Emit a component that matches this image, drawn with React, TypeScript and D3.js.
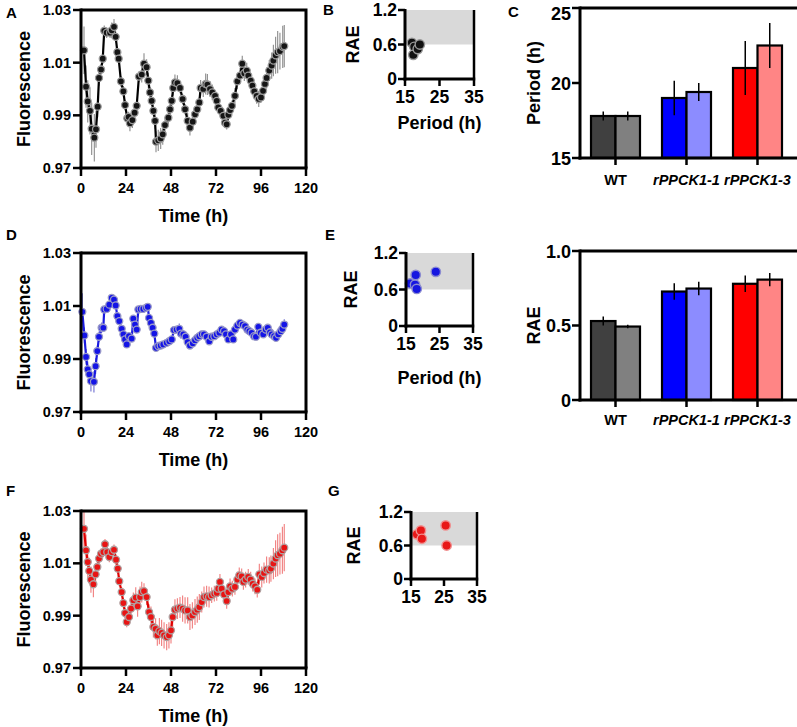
import React from 'react';
import * as d3 from 'd3';

const FONT = '"Liberation Sans", Arial, Helvetica, sans-serif';

// ---- tick values ----
const timeTicks = [0, 24, 48, 72, 96, 120];
const fluorTicks = [0.97, 0.99, 1.01, 1.03];
const periodTicks = [15, 25, 35];
const raeTicks = [0, 0.6, 1.2];
const raeTickLabels = ['0', '0.6', '1.2'];
const barPeriodTicks = [15, 20, 25];
const barRaeTicks = [0, 0.5, 1.0];
const barRaeTickLabels = ['0', '0.5', '1.0'];

// ---- panel A (WT) time series ----
const aTime = [1.6,2.7,3.6,4.8,5.7,7.1,8.0,8.9,9.6,10.7,11.6,12.4,13.7,15.5,16.4,17.6,18.5,19.4,20.1,21.3,22.6,23.5,24.7,25.4,26.1,27.4,28.6,29.7,30.9,32.4,33.6,35.0,35.9,36.8,37.7,38.6,39.5,40.0,41.2,42.5,43.6,44.8,46.6,47.5,48.4,49.2,50.1,51.4,52.8,54.2,55.5,56.9,58.1,59.6,60.8,62.0,63.1,63.8,65.2,66.5,67.4,68.8,70.0,71.5,72.4,73.2,74.5,75.9,76.8,77.7,78.6,79.5,80.5,82.1,83.4,84.8,86.0,87.1,88.4,89.2,90.5,91.4,92.4,93.7,94.8,96.0,97.1,98.1,99.0,100.4,101.7,102.6,103.8,104.9,106.1,107.6,108.4];
const aValue = [1.0147,1.0009,0.9953,0.9917,0.9849,0.9815,0.9847,0.9933,1.0042,1.0074,1.0115,1.0221,1.0214,1.0214,1.0223,1.0236,1.0198,1.0140,1.0115,1.0029,0.9991,0.9939,0.9889,0.9894,0.9870,0.9882,0.9910,0.9936,1.0047,1.0055,1.0096,1.0083,1.0032,0.9987,0.9955,0.9917,0.9879,0.9800,0.9805,0.9812,0.9828,0.9863,0.9891,0.9923,0.9955,1.0004,1.0025,1.0022,1.0004,0.9962,0.9923,0.9879,0.9853,0.9876,0.9904,0.9923,0.9949,1.0004,1.0000,1.0019,1.0017,1.0000,0.9987,0.9974,0.9955,0.9930,0.9917,0.9898,0.9872,0.9866,0.9902,0.9920,0.9936,0.9974,1.0029,1.0051,1.0096,1.0060,1.0070,1.0051,1.0032,1.0013,0.9991,0.9974,0.9962,0.9968,0.9993,1.0019,1.0042,1.0070,1.0089,1.0108,1.0128,1.0140,1.0144,1.0160,1.0163];
const aError = [0.009,0.008,0.008,0.009,0.010,0.009,0.007,0.004,0.003,0.002,0.002,0.002,0.002,0.002,0.003,0.003,0.002,0.002,0.002,0.002,0.002,0.002,0.002,0.002,0.003,0.003,0.002,0.002,0.002,0.003,0.004,0.003,0.003,0.002,0.002,0.002,0.003,0.004,0.004,0.004,0.004,0.003,0.003,0.002,0.002,0.003,0.003,0.003,0.002,0.002,0.002,0.003,0.003,0.003,0.002,0.002,0.002,0.003,0.003,0.004,0.004,0.003,0.003,0.002,0.002,0.002,0.002,0.002,0.002,0.002,0.002,0.002,0.002,0.003,0.003,0.003,0.003,0.003,0.003,0.003,0.002,0.002,0.003,0.003,0.003,0.002,0.003,0.003,0.004,0.004,0.005,0.006,0.007,0.008,0.007,0.008,0.008];

// ---- panel D (rPPCK1-1) time series ----
const dTime = [0.7,1.8,2.7,3.6,4.4,5.3,6.9,7.8,8.7,9.6,11.0,11.9,12.4,13.7,15.1,16.4,17.6,18.5,19.4,20.4,21.7,22.6,23.5,24.4,25.6,27.0,27.9,28.8,29.7,30.6,31.8,33.2,34.7,35.6,36.3,37.3,38.2,39.1,40.0,41.2,42.5,43.9,45.7,47.1,48.4,49.6,51.0,52.4,53.3,54.6,55.8,56.9,58.1,59.6,60.8,62.0,63.1,64.4,65.6,67.0,68.4,69.7,71.1,72.4,73.8,75.0,76.3,77.3,78.6,80.0,81.2,82.1,83.4,84.8,86.2,87.5,88.7,89.8,91.0,92.3,93.3,94.6,95.8,97.2,98.5,99.6,100.8,101.7,103.0,104.0,105.2,106.5,107.4,108.4];
const dValue = [1.0078,0.9989,0.9908,0.9861,0.9842,0.9817,0.9814,0.9873,0.9930,0.9984,1.0018,1.0018,1.0087,1.0089,1.0105,1.0131,1.0124,1.0102,1.0062,1.0043,1.0014,0.9993,0.9974,0.9955,0.9986,0.9977,1.0052,1.0030,1.0011,1.0087,1.0089,1.0089,1.0093,1.0097,1.0055,1.0036,1.0018,0.9996,0.9942,0.9949,0.9951,0.9955,0.9961,0.9967,0.9974,1.0009,1.0011,1.0014,0.9996,0.9993,0.9984,0.9964,0.9951,0.9959,0.9971,0.9980,0.9986,0.9993,0.9993,0.9984,0.9967,0.9984,0.9986,0.9993,0.9999,1.0011,1.0005,0.9993,0.9974,0.9993,0.9974,1.0011,1.0026,1.0036,1.0030,1.0024,1.0011,1.0005,0.9999,0.9986,0.9984,1.0021,0.9999,0.9993,1.0011,1.0018,1.0001,0.9993,0.9986,0.9980,0.9993,1.0005,1.0014,1.0030];
const dError = [0.007,0.003,0.003,0.003,0.003,0.004,0.004,0.003,0.002,0.002,0.002,0.001,0.001,0.001,0.001,0.001,0.001,0.001,0.001,0.001,0.001,0.001,0.001,0.001,0.001,0.001,0.001,0.001,0.001,0.001,0.001,0.001,0.001,0.001,0.001,0.001,0.001,0.001,0.001,0.001,0.001,0.001,0.001,0.001,0.001,0.001,0.001,0.002,0.002,0.001,0.001,0.001,0.001,0.001,0.001,0.001,0.001,0.001,0.001,0.001,0.001,0.001,0.001,0.001,0.001,0.001,0.001,0.001,0.001,0.001,0.001,0.001,0.001,0.001,0.001,0.001,0.001,0.001,0.001,0.001,0.001,0.001,0.001,0.001,0.001,0.001,0.001,0.001,0.001,0.001,0.001,0.001,0.001,0.002];

// ---- panel F (rPPCK1-3) time series ----
const fTime = [1.6,2.7,3.6,4.4,5.3,6.6,7.8,8.7,9.6,10.7,11.9,12.8,14.0,15.1,16.4,17.6,18.7,19.6,20.4,21.7,22.6,23.5,24.4,25.6,26.7,27.9,29.2,30.2,31.5,32.4,33.6,35.0,36.3,37.3,38.6,39.8,40.7,41.8,43.0,44.3,45.7,46.9,48.0,48.9,50.1,51.4,52.8,54.2,55.5,56.9,58.1,59.4,60.8,62.0,63.1,64.4,65.6,67.0,68.3,69.7,71.1,72.4,73.2,74.1,75.0,76.3,77.7,78.6,79.5,80.7,82.1,83.4,84.4,85.7,86.6,87.8,89.2,90.5,91.6,92.8,94.0,95.1,96.4,97.6,99.0,100.4,101.3,102.6,103.8,104.9,106.1,107.4,108.4];
const fValue = [1.0232,1.0150,1.0105,1.0071,1.0038,1.0020,1.0058,1.0086,1.0118,1.0137,1.0143,1.0173,1.0143,1.0124,1.0143,1.0152,1.0114,1.0080,1.0032,0.9990,0.9948,0.9910,0.9876,0.9895,0.9927,0.9959,0.9969,0.9936,0.9971,0.9990,0.9994,0.9971,0.9914,0.9895,0.9857,0.9850,0.9825,0.9841,0.9834,0.9825,0.9818,0.9825,0.9844,0.9895,0.9923,0.9927,0.9931,0.9927,0.9920,0.9920,0.9895,0.9901,0.9914,0.9923,0.9933,0.9952,0.9971,0.9974,0.9971,0.9978,0.9984,0.9987,1.0003,1.0029,1.0003,0.9981,0.9956,0.9990,1.0012,1.0003,1.0010,1.0038,1.0054,1.0050,1.0029,1.0038,1.0048,1.0038,1.0022,1.0012,0.9999,1.0058,1.0048,1.0063,1.0076,1.0073,1.0080,1.0099,1.0118,1.0131,1.0137,1.0150,1.0160];
const fError = [0.008,0.006,0.006,0.005,0.005,0.005,0.004,0.003,0.003,0.002,0.002,0.002,0.002,0.002,0.002,0.002,0.002,0.002,0.002,0.002,0.002,0.002,0.002,0.002,0.003,0.003,0.004,0.004,0.004,0.004,0.003,0.003,0.003,0.004,0.004,0.004,0.004,0.005,0.005,0.005,0.005,0.005,0.005,0.004,0.004,0.004,0.004,0.005,0.005,0.005,0.005,0.005,0.005,0.005,0.005,0.004,0.004,0.004,0.004,0.003,0.003,0.003,0.003,0.003,0.003,0.003,0.003,0.003,0.003,0.003,0.003,0.003,0.003,0.003,0.003,0.003,0.003,0.003,0.003,0.003,0.003,0.004,0.004,0.004,0.005,0.005,0.005,0.006,0.007,0.008,0.008,0.009,0.009];

// ---- scatter panels (period vs RAE) ----
const bPeriod = [17.0, 17.7, 17.4, 18.7, 19.3];
const bRae = [0.63, 0.56, 0.42, 0.52, 0.60];
const ePeriod = [16.2, 17.9, 17.7, 18.2, 23.9];
const eRae = [0.70, 0.84, 0.68, 0.61, 0.89];
const gPeriod = [16.8, 18.0, 18.3, 25.5, 25.8];
const gRae = [0.80, 0.87, 0.72, 0.96, 0.60];

// ---- bar charts ----
const groups = ['WT', 'rPPCK1-1', 'rPPCK1-3'];
const periodMean1 = [17.8, 19.0, 21.0];
const periodErr1 = [0.3, 1.15, 1.8];
const periodMean2 = [17.8, 19.4, 22.5];
const periodErr2 = [0.3, 0.6, 1.5];
const raeMean1 = [0.53, 0.728, 0.78];
const raeErr1 = [0.03, 0.055, 0.055];
const raeMean2 = [0.493, 0.748, 0.808];
const raeErr2 = [0.012, 0.045, 0.045];
const barColors1 = ['#404040', '#0000ff', '#ff0000'];
const barColors2 = ['#808080', '#8c8cff', '#ff8585'];

const bold = { fontFamily: FONT, fontWeight: 700 } as const;

function Letter({ x, y, t }: { x: number; y: number; t: string }) {
  return <text x={x} y={y} style={{ ...bold, fontSize: 15 }} fill="#000">{t}</text>;
}

function TimeSeries(props: any) {
  const { id, top, bottom, t, v, e, lineColor, fill, stroke, errColor, letter, letterY } = props;
  const left = 81, right = 306;
  const x = d3.scaleLinear().domain([0, 120]).range([left, right]);
  const y = d3.scaleLinear().domain([0.97, 1.03]).range([bottom, top]);
  const pts = t.map((ti: number, i: number) => ({ t: ti, v: v[i], e: e[i] }));
  const path = d3.line<any>().x(d => x(d.t)).y(d => y(d.v))(pts) || '';
  const mid = (top + bottom) / 2;
  return (
    <g>
      <clipPath id={id}>
        <rect x={left - 10} y={top} width={right - left + 20} height={bottom - top + 10} />
      </clipPath>
      <g clipPath={`url(#${id})`}>
        {pts.map((d: any, i: number) => (
          <line key={'e' + i} x1={x(d.t)} x2={x(d.t)} y1={y(d.v - d.e)} y2={y(d.v + d.e)} stroke={errColor} strokeWidth={1.1} />
        ))}
        <path d={path} fill="none" stroke={lineColor} strokeWidth={2.2} />
        {pts.map((d: any, i: number) => (
          <circle key={'c' + i} cx={x(d.t)} cy={y(d.v)} r={3.5} fill={fill} stroke={stroke} strokeWidth={1.3} />
        ))}
      </g>
      {/* frame */}
      <path d={`M${left},${top}H${right}V${bottom}`} fill="none" stroke="#000" strokeWidth={3} />
      <line x1={left} x2={left} y1={top - 1.5} y2={bottom + 1.5} stroke="#000" strokeWidth={3} />
      <line x1={left - 1.5} x2={right + 1.5} y1={bottom} y2={bottom} stroke="#000" strokeWidth={3} />
      {fluorTicks.map(tk => (
        <g key={'y' + tk}>
          <line x1={left - 8} x2={left} y1={y(tk)} y2={y(tk)} stroke="#000" strokeWidth={2.5} />
          <text x={left - 10} y={y(tk)} dy="0.35em" textAnchor="end" style={{ ...bold, fontSize: 14.5 }}>{tk.toFixed(2)}</text>
        </g>
      ))}
      {timeTicks.map(tk => (
        <g key={'x' + tk}>
          <line x1={x(tk)} x2={x(tk)} y1={bottom} y2={bottom + 8} stroke="#000" strokeWidth={2.5} />
          <text x={x(tk)} y={bottom + 25} textAnchor="middle" style={{ ...bold, fontSize: 14.5 }}>{tk}</text>
        </g>
      ))}
      <text x={(left + right) / 2} y={bottom + 54} textAnchor="middle" style={{ ...bold, fontSize: 18 }}>Time (h)</text>
      <text transform={`translate(30,${mid}) rotate(-90)`} textAnchor="middle" style={{ ...bold, fontSize: 18 }}>Fluorescence</text>
      <Letter x={6} y={letterY} t={letter} />
    </g>
  );
}

function Scatter(props: any) {
  const { left, right, top, bottom, px, py, fill, stroke, letter, letterX, letterY, raeX, showTitle, titleY } = props;
  const x = d3.scaleLinear().domain([15, 35]).range([left, right]);
  const y = d3.scaleLinear().domain([0, 1.2]).range([bottom, top]);
  return (
    <g>
      <rect x={left} y={y(1.2)} width={right - left} height={y(0.6) - y(1.2)} fill="#d9d9d9" />
      {px.map((p: number, i: number) => (
        <circle key={i} cx={x(p)} cy={y(py[i])} r={4.7} fill={fill} stroke={stroke} strokeWidth={1.4} />
      ))}
      <line x1={right} x2={right} y1={top} y2={bottom} stroke="#000" strokeWidth={2.5} />
      <line x1={left} x2={left} y1={top - 1} y2={bottom + 1.5} stroke="#000" strokeWidth={3} />
      <line x1={left - 1.5} x2={right + 1.2} y1={bottom} y2={bottom} stroke="#000" strokeWidth={3} />
      {raeTicks.map((tk, i) => (
        <g key={'y' + tk}>
          <line x1={left - 7} x2={left} y1={y(tk)} y2={y(tk)} stroke="#000" strokeWidth={2.5} />
          <text x={left - 8} y={y(tk)} dy="0.36em" textAnchor="end" style={{ ...bold, fontSize: 17.5 }}>{raeTickLabels[i]}</text>
        </g>
      ))}
      {periodTicks.map(tk => (
        <g key={'x' + tk}>
          <line x1={x(tk)} x2={x(tk)} y1={bottom} y2={bottom + 7} stroke="#000" strokeWidth={2.5} />
          <text x={x(tk)} y={bottom + 24} textAnchor="middle" style={{ ...bold, fontSize: 17.5 }}>{tk}</text>
        </g>
      ))}
      {showTitle && (
        <text x={(left + right) / 2} y={titleY} textAnchor="middle" style={{ ...bold, fontSize: 18 }}>Period (h)</text>
      )}
      <text transform={`translate(${raeX},${(top + bottom) / 2}) rotate(-90)`} textAnchor="middle" dy="0.35em" style={{ ...bold, fontSize: 18 }}>RAE</text>
      <Letter x={letterX} y={letterY} t={letter} />
    </g>
  );
}

function BarChart(props: any) {
  const { top, bottom, domain, ticks, tickLabels, m1, e1, m2, e2, ylabel, letter, catY } = props;
  const left = 580, right = 793;
  const x = d3.scaleBand<string>().domain(groups).range([left, right]).padding(0);
  const y = d3.scaleLinear().domain(domain).range([bottom, top]);
  const bw = 24.5;
  return (
    <g>
      {groups.map((g, i) => {
        const c = (x(g) as number) + x.bandwidth() / 2;
        return (
          <g key={g}>
            <rect x={c - bw} y={y(m1[i])} width={bw} height={bottom - y(m1[i])} fill={barColors1[i]} stroke="#000" strokeWidth={2.2} />
            <rect x={c} y={y(m2[i])} width={bw} height={bottom - y(m2[i])} fill={barColors2[i]} stroke="#000" strokeWidth={2.2} />
            <line x1={c - bw / 2} x2={c - bw / 2} y1={y(m1[i] + e1[i])} y2={y(m1[i] - e1[i])} stroke="#000" strokeWidth={1.5} />
            <line x1={c + bw / 2} x2={c + bw / 2} y1={y(m2[i] + e2[i])} y2={y(m2[i] - e2[i])} stroke="#000" strokeWidth={1.5} />
            <line x1={c} x2={c} y1={bottom} y2={bottom + 7} stroke="#000" strokeWidth={2.5} />
            <text x={c} y={catY} textAnchor="middle" style={{ ...bold, fontSize: 14.5, fontStyle: i === 0 ? 'normal' : 'italic' }}>{g}</text>
          </g>
        );
      })}
      <line x1={left} x2={800} y1={top} y2={top} stroke="#000" strokeWidth={3} />
      <line x1={left} x2={left} y1={top - 1.5} y2={bottom + 1.5} stroke="#000" strokeWidth={3} />
      <line x1={left - 1.5} x2={800} y1={bottom} y2={bottom} stroke="#000" strokeWidth={3} />
      {ticks.map((tk: number, i: number) => (
        <g key={'y' + tk}>
          <line x1={left - 8} x2={left} y1={y(tk)} y2={y(tk)} stroke="#000" strokeWidth={2.5} />
          <text x={left - 9} y={Math.max(y(tk) + 6.5, 20)} textAnchor="end" style={{ ...bold, fontSize: 18 }}>{tickLabels[i]}</text>
        </g>
      ))}
      <text transform={`translate(534,${(top + bottom) / 2}) rotate(-90)`} textAnchor="middle" dy="0.35em" style={{ ...bold, fontSize: 18 }}>{ylabel}</text>
      {letter && <Letter x={508} y={17} t={letter} />}
    </g>
  );
}

export default function App() {
  return (
    <svg width={797} height={727} style={{ position: 'absolute', left: 0, top: 0, background: '#fff' }}>
      <rect width={797} height={727} fill="#fff" />
      <TimeSeries id="clipA" top={10} bottom={168} t={aTime} v={aValue} e={aError}
        lineColor="#000" fill="#151515" stroke="#9a9a9a" errColor="#8a8a8a" letter="A" letterY={18} />
      <TimeSeries id="clipD" top={253} bottom={412} t={dTime} v={dValue} e={dError}
        lineColor="#1a1ae0" fill="#1414e6" stroke="#9a9ac8" errColor="#6d6dd0" letter="D" letterY={240} />
      <TimeSeries id="clipF" top={511} bottom={668} t={fTime} v={fValue} e={fError}
        lineColor="#e00000" fill="#e81414" stroke="#b0a0a0" errColor="#f07c7c" letter="F" letterY={496} />

      <Scatter left={405} right={474} top={10} bottom={79} px={bPeriod} py={bRae}
        fill="#111" stroke="#999" letter="B" letterX={323} letterY={15} raeX={353} showTitle titleY={129} />
      <Scatter left={406} right={473} top={253} bottom={326} px={ePeriod} py={eRae}
        fill="#1616e0" stroke="#8c8cd0" letter="E" letterX={325} letterY={240} raeX={351} showTitle titleY={384} />
      <Scatter left={411} right={477} top={512} bottom={579} px={gPeriod} py={gRae}
        fill="#e81818" stroke="#f09090" letter="G" letterX={328} letterY={496} raeX={354} showTitle={false} titleY={0} />

      <BarChart top={8} bottom={158} domain={[15, 25]} ticks={barPeriodTicks} tickLabels={barPeriodTicks.map(String)}
        m1={periodMean1} e1={periodErr1} m2={periodMean2} e2={periodErr2} ylabel="Period (h)" letter="C" catY={185} />
      <BarChart top={251} bottom={400} domain={[0, 1]} ticks={barRaeTicks} tickLabels={barRaeTickLabels}
        m1={raeMean1} e1={raeErr1} m2={raeMean2} e2={raeErr2} ylabel="RAE" letter="" catY={425} />
    </svg>
  );
}
